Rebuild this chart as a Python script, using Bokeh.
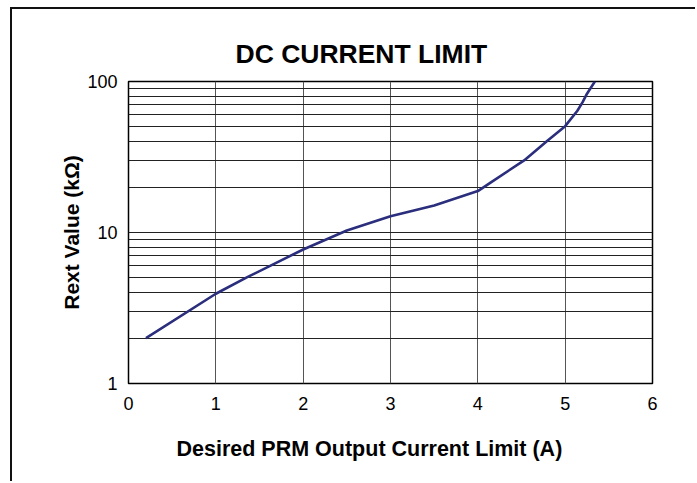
from bokeh.plotting import figure
from bokeh.models import Range1d, FixedTicker, Title, PrintfTickFormatter
from bokeh.embed import file_html
from bokeh.resources import INLINE

# Data
current_a = [0.2, 1.0, 1.36, 2.0, 2.5, 3.0, 3.5, 4.0, 4.15, 4.53, 4.8, 5.0, 5.14, 5.2, 5.25, 5.34]
rext_kohm = [2.0, 3.93, 5.06, 7.72, 10.3, 12.8, 15.1, 18.8, 21.5, 30.0, 40.7, 50.6, 64.0, 73.0, 83.0, 100.0]

x_ticks = [0, 1, 2, 3, 4, 5, 6]
y_ticks = [1, 10, 100]
y_minor = [2, 3, 4, 5, 6, 7, 8, 9, 20, 30, 40, 50, 60, 70, 80, 90]

FONT = "Liberation Sans"

p = figure(width=685, height=474, output_backend="svg", toolbar_location=None,
           y_axis_type="log", x_range=Range1d(0, 6), y_range=Range1d(1, 100),
           title="DC CURRENT LIMIT",
           min_border_left=116, min_border_right=45, min_border_top=72, min_border_bottom=100,
           background_fill_color="white", border_fill_color="white")

p.styles = {"border-left": "2px solid #111", "border-top": "2px solid #111",
            "margin-left": "10px", "margin-top": "7px"}

p.title.align = "left"
p.title.offset = 107
p.title.text_font = FONT
p.title.text_font_size = "26.5px"
p.title.text_font_style = "bold"
p.title.text_color = "black"
p.title.standoff = 26

p.outline_line_color = "black"
p.outline_line_width = 1.5

p.xaxis.ticker = FixedTicker(ticks=x_ticks)
p.yaxis.ticker = FixedTicker(ticks=y_ticks, minor_ticks=y_minor)
p.yaxis.formatter = PrintfTickFormatter(format="%d")
p.xgrid.ticker = FixedTicker(ticks=x_ticks)
p.ygrid.ticker = FixedTicker(ticks=y_ticks, minor_ticks=y_minor)

for ax in (p.xaxis, p.yaxis):
    ax.axis_line_color = None
    ax.major_tick_line_color = None
    ax.minor_tick_line_color = None
    ax.major_label_text_font = FONT
    ax.major_label_text_font_size = "18px"
    ax.major_label_text_color = "black"
    ax.major_label_text_font_style = "normal"

p.xaxis.major_label_standoff = 7
p.yaxis.major_label_standoff = 5
p.yaxis.axis_label = "Rext Value (k\u03a9)"
p.yaxis.axis_label_text_font = FONT
p.yaxis.axis_label_text_font_size = "21px"
p.yaxis.axis_label_text_font_style = "bold"
p.yaxis.axis_label_text_color = "black"
p.yaxis.axis_label_standoff = 1

p.xgrid.grid_line_color = "#555555"
p.xgrid.grid_line_width = 1
p.ygrid.grid_line_color = "#222222"
p.ygrid.grid_line_width = 1
p.ygrid.minor_grid_line_color = "#222222"
p.ygrid.minor_grid_line_width = 1

xlabel = Title(text="Desired PRM Output Current Limit (A)", align="left", offset=48,
               text_font=FONT, text_font_size="21.5px", text_font_style="bold",
               text_color="black", standoff=45)
p.add_layout(xlabel, "below")

p.line(current_a, rext_kohm, line_color="#2a2e7c", line_width=2.6)

open("out.html", "w").write(file_html(p, INLINE))
